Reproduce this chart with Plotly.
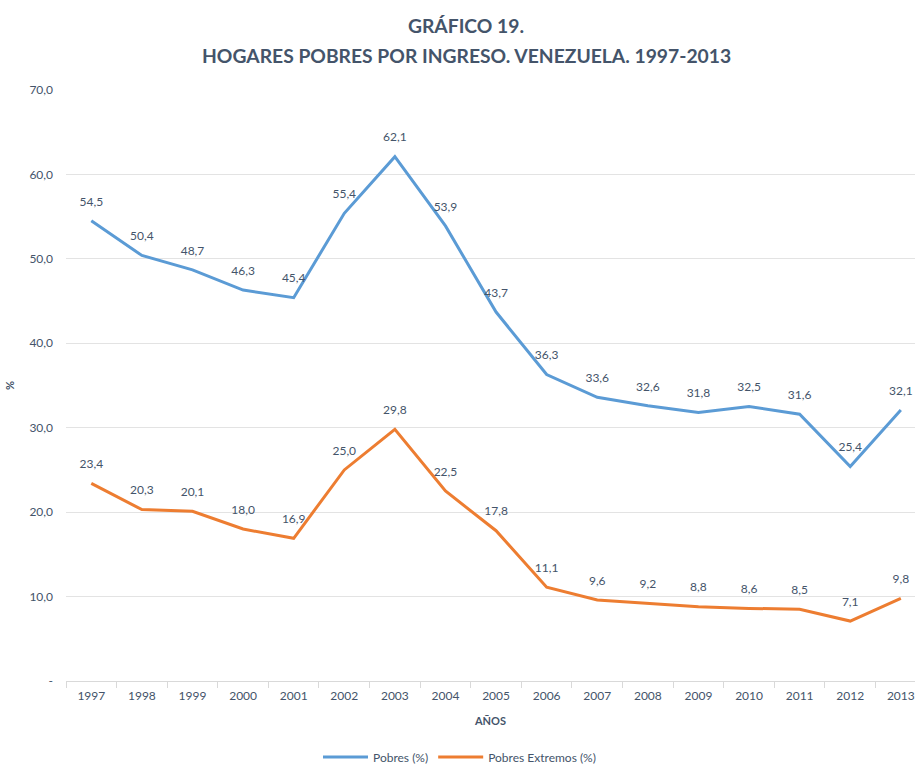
import plotly.graph_objects as go

years = [str(y) for y in range(1997, 2014)]
pobres = [54.5, 50.4, 48.7, 46.3, 45.4, 55.4, 62.1, 53.9, 43.7, 36.3, 33.6, 32.6, 31.8, 32.5, 31.6, 25.4, 32.1]
extremos = [23.4, 20.3, 20.1, 18.0, 16.9, 25.0, 29.8, 22.5, 17.8, 11.1, 9.6, 9.2, 8.8, 8.6, 8.5, 7.1, 9.8]
y_ticks = [0, 10, 20, 30, 40, 50, 60, 70]
y_ticklabels = ["-", "10,0", "20,0", "30,0", "40,0", "50,0", "60,0", "70,0"]

TXT = "#44546A"
FONT = "Lato"
W, H = 915, 769
L, T, B = 66, 90, 769 - 681
PW, PH = W - L, H - T - B

def px_x(x):
    return (x - L) / PW

def px_y(y):
    return 1 - (y - T) / PH

def fmt(v):
    return f"{v:.1f}".replace(".", ",")

fig = go.Figure()
for name, vals, col in [("Pobres (%)", pobres, "#5B9BD5"), ("Pobres Extremos (%)", extremos, "#ED7D31")]:
    fig.add_trace(go.Scatter(
        x=years, y=vals, mode="lines+markers+text", name=name,
        line=dict(color=col, width=3),
        marker=dict(size=18, color="rgba(0,0,0,0)"),
        text=[fmt(v) for v in vals], textposition="top center",
        textfont=dict(size=12, color=TXT, family=FONT),
        cliponaxis=False,
    ))

fig.update_layout(
    width=W, height=H,
    paper_bgcolor="white", plot_bgcolor="white",
    margin=dict(l=L, r=0, t=T, b=B, pad=0, autoexpand=False),
    font=dict(family=FONT, color=TXT, size=12),
    title=dict(
        text="<b>GRÁFICO 19.</b>",
        x=466 / W, xanchor="center", y=1 - 26 / H, yanchor="middle",
        font=dict(size=19.3, color=TXT, family=FONT),
    ),
    annotations=[dict(
        text="<b>HOGARES POBRES POR INGRESO. VENEZUELA. 1997-2013</b>",
        xref="paper", yref="paper", x=px_x(466), y=px_y(55),
        xanchor="center", yanchor="middle", showarrow=False,
        font=dict(size=19.3, color=TXT, family=FONT),
    )],
    xaxis=dict(
        type="category", range=[-0.5, 16.28], automargin=False,
        showline=True, linecolor="#D9D9D9", linewidth=1,
        ticks="outside", tickson="boundaries", ticklen=6, tickcolor="#D9D9D9",
        showgrid=False, ticklabelstandoff=4,
        tickfont=dict(size=12, color=TXT),
        title=dict(text="<b>AÑOS</b>", font=dict(size=11, color=TXT), standoff=14),
    ),
    yaxis=dict(
        range=[0, 70], tickvals=y_ticks, ticktext=y_ticklabels, automargin=False,
        showgrid=True, gridcolor="#E3E3E3", gridwidth=1,
        zeroline=False, showline=False, ticks="",
        tickfont=dict(size=12, color=TXT),
        ticklabelstandoff=12,
        title=dict(text="<b>%</b>", font=dict(size=11, color=TXT), standoff=12),
    ),
    legend=dict(
        orientation="h", x=px_x(318), xanchor="left", y=px_y(757), yanchor="middle",
        font=dict(size=12, color=TXT), itemwidth=45, tracegroupgap=0,
    ),
    showlegend=True,
)

fig.write_html(
    "out.html",
    config={"displayModeBar": False},
    post_script="document.body.style.margin='0';document.body.style.overflow='hidden';",
)
